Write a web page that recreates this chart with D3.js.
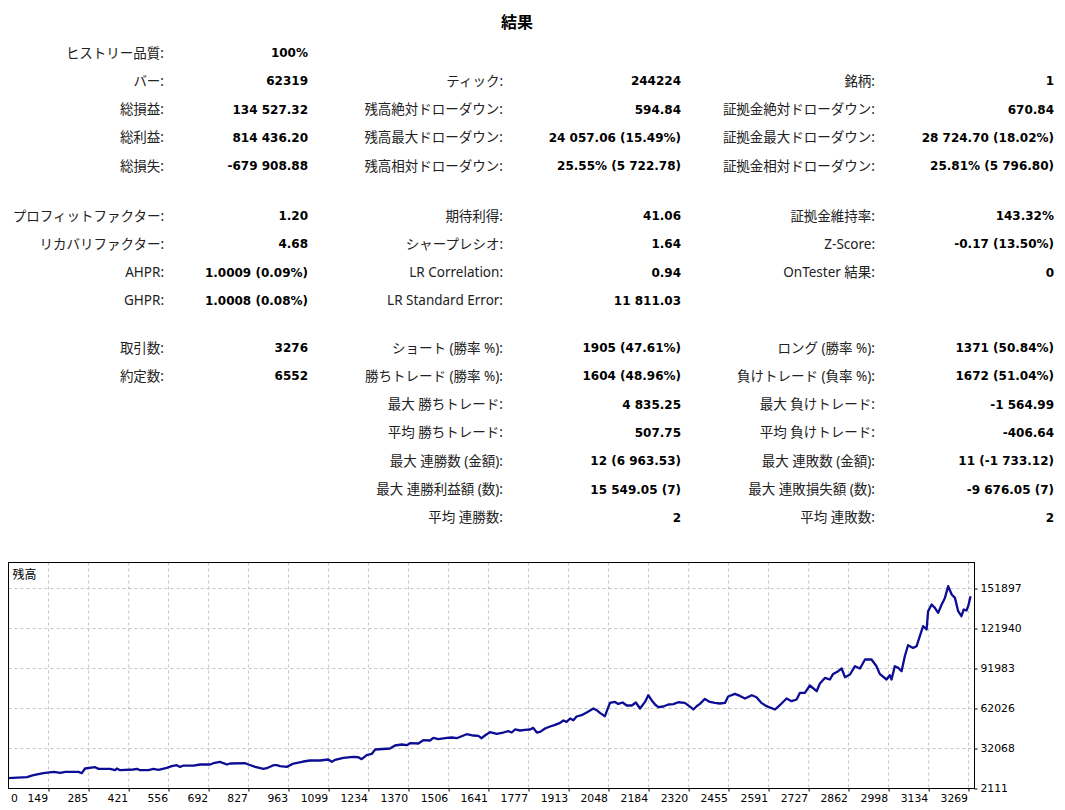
<!DOCTYPE html>
<html><head><meta charset="utf-8">
<script src="https://cdn.jsdelivr.net/npm/d3@7/dist/d3.min.js"></script>
<style>body{margin:0;background:#fff;} svg{display:block;}</style>
</head><body><svg id="c" width="1065" height="810"></svg>
<script>
// ---------- DATA ----------
const title = "結果";
const col1Labels = ["ヒストリー品質:","バー:","総損益:","総利益:","総損失:","プロフィットファクター:","リカバリファクター:","AHPR:","GHPR:","取引数:","約定数:",null,null,null,null,null];
const col1Values = ["100%","62319","134 527.32","814 436.20","-679 908.88","1.20","4.68","1.0009 (0.09%)","1.0008 (0.08%)","3276","6552",null,null,null,null,null];
const col2Labels = [null,"ティック:","残高絶対ドローダウン:","残高最大ドローダウン:","残高相対ドローダウン:","期待利得:","シャープレシオ:","LR Correlation:","LR Standard Error:","ショート (勝率 %):","勝ちトレード (勝率 %):","最大 勝ちトレード:","平均 勝ちトレード:","最大 連勝数 (金額):","最大 連勝利益額 (数):","平均 連勝数:"];
const col2Values = [null,"244224","594.84","24 057.06 (15.49%)","25.55% (5 722.78)","41.06","1.64","0.94","11 811.03","1905 (47.61%)","1604 (48.96%)","4 835.25","507.75","12 (6 963.53)","15 549.05 (7)","2"];
const col3Labels = [null,"銘柄:","証拠金絶対ドローダウン:","証拠金最大ドローダウン:","証拠金相対ドローダウン:","証拠金維持率:","Z-Score:","OnTester 結果:",null,"ロング (勝率 %):","負けトレード (負率 %):","最大 負けトレード:","平均 負けトレード:","最大 連敗数 (金額):","最大 連敗損失額 (数):","平均 連敗数:"];
const col3Values = [null,"1","670.84","28 724.70 (18.02%)","25.81% (5 796.80)","143.32%","-0.17 (13.50%)","0",null,"1371 (50.84%)","1672 (51.04%)","-1 564.99","-406.64","11 (-1 733.12)","-9 676.05 (7)","2"];

const seriesName = "残高";
const xTickLabels = [0,149,285,421,556,692,827,963,1099,1234,1370,1506,1641,1777,1913,2048,2184,2320,2455,2591,2727,2862,2998,3134,3269];
const yTickLabels = [2111,32068,62026,91983,121940,151897];

const tradeNo = [0,76,98,132,166,189,206,251,262,273,307,319,358,375,381,392,437,449,460,488,505,522,550,567,584,595,607,641,663,697,708,731,742,754,765,816,827,850,878,889,912,923,934,957,980,1013,1036,1070,1098,1110,1121,1149,1183,1200,1211,1228,1245,1257,1307,1324,1347,1364,1375,1403,1420,1443,1454,1471,1500,1517,1533,1550,1567,1590,1607,1618,1629,1646,1669,1691,1708,1720,1731,1748,1765,1782,1793,1805,1816,1833,1850,1867,1884,1895,1906,1918,1929,1940,1957,1974,1997,2008,2019,2036,2053,2070,2081,2096,2110,2127,2141,2155,2172,2183,2195,2206,2217,2234,2251,2268,2285,2307,2330,2336,2347,2358,2375,2392,2409,2426,2443,2454,2477,2494,2511,2534,2550,2567,2584,2613,2629,2652,2669,2686,2697,2714,2731,2754,2765,2782,2799,2810,2827,2839,2850,2867,2884,2901,2918,2940,2957,2968,2991,3002,3008,3019,3031,3042,3053,3064,3081,3093,3104,3115,3127,3132,3144,3155,3166,3178,3189,3200,3212,3223,3234,3245,3253,3262,3268,3276];
const balance = [9800,10570,12070,13570,14540,13790,14540,14540,13570,17090,18060,16790,16790,15820,17090,15820,16340,16790,15820,15820,16790,16040,17540,18810,19560,18290,19300,19300,20090,20090,21060,22030,21060,20090,20830,21060,20090,18290,16790,17300,19560,19560,18810,18290,20830,22330,23080,23080,23830,22030,23600,25030,25780,25500,24060,27050,28020,31320,32070,34320,35060,34540,36040,35810,38280,38060,40010,39030,40010,40310,39780,41280,42780,41800,41500,39780,41800,44280,43000,44050,45030,44050,46300,45550,46000,46300,47500,44050,44500,47050,48550,49740,51240,53040,51990,54540,53260,56030,57010,59030,62030,60750,58730,56260,66220,66970,65470,66520,64270,64270,66520,62030,66970,71990,68020,65020,63000,63520,65020,65250,66700,66220,62480,61280,63750,65470,69220,66970,66220,65770,66220,71010,72960,71460,69520,71990,70490,66220,63750,61280,64500,69520,67500,68770,73710,73710,79250,74980,80750,84940,83740,87940,89960,91980,85470,87490,93710,91980,98720,98720,93710,87940,83740,86970,83740,93710,92430,89960,101190,109430,107410,108680,116170,123660,121190,134900,139910,137370,133620,139910,144860,153620,147400,144860,134900,131150,136170,135420,138640,146130];

// ---------- DRAW ----------
const svg = d3.select("#c");
const jp = "'Noto Sans','Noto Sans CJK JP',sans-serif";
const bold = "'DejaVu Sans','Noto Sans CJK JP',sans-serif";

svg.append("text").text(title)
  .attr("x",517).attr("y",21).attr("text-anchor","middle").attr("dominant-baseline","central")
  .attr("font-family","'Noto Sans CJK JP',sans-serif").attr("font-weight","bold").attr("font-size",16).attr("fill","#000");

function rowY(i){
  if(i<5) return 52.5 + i*28.3;
  if(i<9) return 215.5 + (i-5)*28.3;
  return 347.5 + (i-9)*28.3;
}
const columns = [
  {labels:col1Labels, values:col1Values, lx:164, vx:308},
  {labels:col2Labels, values:col2Values, lx:503, vx:681},
  {labels:col3Labels, values:col3Values, lx:875, vx:1054}
];
columns.forEach(col=>{
  const g = svg.append("g");
  g.selectAll("text.l").data(col.labels.map((t,i)=>({t,i})).filter(d=>d.t))
    .join("text").attr("class","l").text(d=>d.t)
    .attr("x",col.lx).attr("y",d=>rowY(d.i)).attr("text-anchor","end").attr("dominant-baseline","central")
    .attr("font-family",jp).attr("font-size",13.5).attr("fill","#222");
  g.selectAll("text.v").data(col.values.map((t,i)=>({t,i})).filter(d=>d.t))
    .join("text").attr("class","v").text(d=>d.t)
    .attr("x",col.vx).attr("y",d=>rowY(d.i)+0.5).attr("text-anchor","end").attr("dominant-baseline","central")
    .attr("font-family",bold).attr("font-weight","bold").attr("font-size",12).attr("fill","#000");
});

// chart
const L=8.5, R=974.5, T=562.5, B=788.5;
const x = d3.scaleLinear().domain([149,3269]).range([48.5,968.5]);
const y = d3.scaleLinear().domain([2111,151897]).range([788.5,588.5]);

const grid = svg.append("g").attr("stroke","#c4c4c4").attr("stroke-width",1).attr("stroke-dasharray","3,3");
grid.selectAll("line.v").data(xTickLabels.filter(d=>x(d)>L+1 && x(d)<R-1)).join("line")
  .attr("x1",d=>x(d)).attr("x2",d=>x(d)).attr("y1",T).attr("y2",B);
grid.selectAll("line.h").data(yTickLabels.filter(d=>y(d)<B-1)).join("line")
  .attr("x1",L).attr("x2",R).attr("y1",d=>y(d)).attr("y2",d=>y(d));

svg.append("clipPath").attr("id","clip").append("rect").attr("x",L).attr("y",T).attr("width",R-L).attr("height",B-T);
const pts = tradeNo.map((t,i)=>[t,balance[i]]);
svg.append("path").datum(pts).attr("clip-path","url(#clip)")
  .attr("fill","none").attr("stroke","#0c0c94").attr("stroke-width",2.3).attr("stroke-linejoin","round")
  .attr("d", d3.line().x(d=>x(d[0])).y(d=>y(d[1])));

svg.append("rect").attr("x",L).attr("y",T).attr("width",R-L).attr("height",B-T)
  .attr("fill","none").attr("stroke","#000").attr("stroke-width",1);

svg.append("text").text(seriesName).attr("x",12.5).attr("y",573.5).attr("dominant-baseline","central")
  .attr("font-family","'Noto Sans CJK JP',sans-serif").attr("font-size",12).attr("fill","#000");

const axFont = "'DejaVu Sans',sans-serif";
const yAxis = svg.append("g").attr("transform",`translate(${R},0)`)
  .call(d3.axisRight(y).tickValues(yTickLabels).tickSize(3).tickPadding(3).tickFormat(d3.format("d")));
yAxis.select(".domain").remove();
yAxis.selectAll("text").attr("font-family",axFont).attr("font-size",10.8).attr("fill","#000");

const xAxis = svg.append("g").attr("transform",`translate(0,${B})`)
  .call(d3.axisBottom(x).tickValues(xTickLabels).tickSize(3).tickPadding(3).tickFormat(d=>String(d)));
xAxis.select(".domain").remove();
xAxis.selectAll("text").attr("font-family",axFont).attr("font-size",10.8).attr("fill","#000")
  .attr("text-anchor","end").attr("x",-1);
xAxis.selectAll(".tick").filter(d=>x(d)<L+1).each(function(d){
  d3.select(this).select("line").remove();
  d3.select(this).select("text").attr("text-anchor","start").attr("x", L+2 - x(d));
});
</script></body></html>
